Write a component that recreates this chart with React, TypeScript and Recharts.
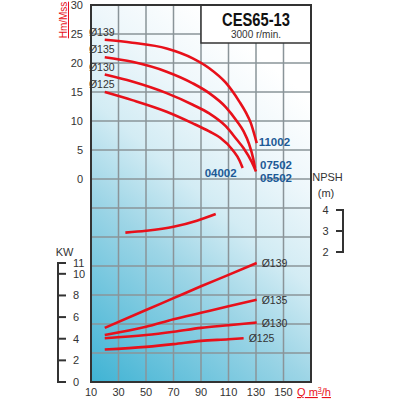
import { LineChart, Line, XAxis, YAxis, CartesianGrid, ReferenceArea, LabelList } from "recharts";

const FONT = '"Liberation Sans Narrow", "Arial Narrow", "Liberation Sans", Arial, sans-serif';
const RED = "#e8101a";
const BLUE = "#1d5a96";
const INK = "#333";

// axes
const Q_TICKS = [10, 30, 50, 70, 90, 110, 130, 150, 170];
const H_TICKS = [-35, -30, -25, -20, -15, -10, -5, 0, 5, 10, 15, 20, 25, 30];
const KW_TICKS = [0, 2, 4, 6, 8, 10, 11];
const NPSH_TICKS = [2, 3, 4];
const H_DOMAIN = [-35, 30];
const KW_DOMAIN = [0, 34.85];
const NPSH_DOMAIN = [-4.19, 13.76];

const IMPELLERS = ["Ø139", "Ø135", "Ø130", "Ø125"];
const MODELS = ["11002", "07502", "05502", "04002"];

// head curves (Q m3/h -> H m)
const HEAD_Q_139 = [20, 40, 65, 84, 96, 108, 118, 123, 126, 129, 130.5];
const HEAD_H_139 = [24.0, 23.5, 22.5, 20.8, 19.1, 16.6, 13.3, 11.3, 9.8, 7.5, 6.2];
const HEAD_Q_135 = [20, 40, 65, 84, 96, 108, 116, 121, 125, 128, 129.3];
const HEAD_H_135 = [21.0, 20.2, 18.5, 16.5, 14.8, 12.4, 10.0, 8.2, 6.0, 3.5, 1.9];
const HEAD_Q_130 = [20, 40, 65, 84, 96, 108, 116, 121, 127, 130];
const HEAD_H_130 = [18.0, 16.8, 14.8, 12.8, 11.3, 9.1, 6.8, 5.3, 2.9, 1.3];
const HEAD_Q_125 = [20, 40, 65, 84, 96, 104, 113, 118, 120.3];
const HEAD_H_125 = [15.0, 13.6, 11.6, 9.6, 8.2, 7.1, 5.0, 3.2, 1.9];

// power curves (Q -> kW)
const KW_Q = [20, 50, 70, 90, 110, 130.5];
const KW_139 = [5.0, 6.65, 7.75, 8.85, 9.9, 11.0];
const KW_135 = [4.35, 5.1, 5.8, 6.4, 7.0, 7.6];
const KW_130 = [4.05, 4.35, 4.65, 5.0, 5.25, 5.5];
const KW_Q_125 = [20, 50, 70, 90, 110, 121];
const KW_125 = [3.0, 3.25, 3.5, 3.8, 3.95, 4.05];

// NPSH curve
const NPSH_Q = [35, 50, 70, 87, 100.7];
const NPSH_M = [2.92, 3.01, 3.2, 3.49, 3.81];

const zip = (q: number[], v: number[]) => q.map((x, i) => ({ q: x, v: v[i] }));

const headSeries = [
  zip(HEAD_Q_139, HEAD_H_139),
  zip(HEAD_Q_135, HEAD_H_135),
  zip(HEAD_Q_130, HEAD_H_130),
  zip(HEAD_Q_125, HEAD_H_125),
];
const kwSeries = [
  zip(KW_Q, KW_139),
  zip(KW_Q, KW_135),
  zip(KW_Q, KW_130),
  zip(KW_Q_125, KW_125),
];
const npshData = zip(NPSH_Q, NPSH_M);

// label offsets for the model codes at the end of each head curve
const MODEL_OFFSETS = [
  { dx: 2, dy: 3, anchor: "start" },
  { dx: 5, dy: 1, anchor: "start" },
  { dx: 4, dy: 11, anchor: "start" },
  { dx: -6, dy: 9, anchor: "end" },
];

const pos = (p: any) => ({
  x: p.viewBox?.x ?? p.x,
  y: p.viewBox?.y ?? p.y,
});

const startLabel = (text: string) => (p: any) => {
  if (p.index !== 0) return null;
  const { x, y } = pos(p);
  return (
    <text x={x - 3} y={y - 4} textAnchor="middle" fontSize={10.5} fill={INK} fontFamily={FONT}>
      {text}
    </text>
  );
};

const endLabel = (text: string, last: number, o: any, color: string, bold: boolean, size: number) => (p: any) => {
  if (p.index !== last) return null;
  const { x, y } = pos(p);
  return (
    <text x={x + o.dx} y={y + o.dy} textAnchor={o.anchor} fontSize={size} fontWeight={bold ? 700 : 400} fill={color} fontFamily={FONT}>
      {text}
    </text>
  );
};

function HeadTick({ x, y, payload }: any) {
  if (payload.value < 0) return null;
  return (
    <text x={x} y={y} dy={4} textAnchor="end" fontSize={11} fill={INK} fontFamily={FONT}>
      {payload.value}
    </text>
  );
}

function KwTick({ x, y, payload, height }: any) {
  const v = payload.value;
  const i = KW_TICKS.indexOf(v);
  const ppu = (height || 377) / (KW_DOMAIN[1] - KW_DOMAIN[0]);
  const down = i > 0 ? (v - KW_TICKS[i - 1]) * ppu : 0;
  return (
    <g>
      <line x1={x - 3} x2={x + 5} y1={y} y2={y} stroke={INK} strokeWidth={2} />
      {down > 0 && <line x1={x - 3} x2={x - 3} y1={y - 1} y2={y + down + 1} stroke={INK} strokeWidth={2} />}
      <text x={x + 12} y={y} dy={4} fontSize={11} fill={INK} fontFamily={FONT}>{v}</text>
      {v === 11 && (
        <text x={x + 3.5} y={y - 7.5} textAnchor="middle" fontSize={11} fill={INK} fontFamily={FONT}>KW</text>
      )}
    </g>
  );
}

function NpshTick({ x, y, payload, height }: any) {
  const v = payload.value;
  const i = NPSH_TICKS.indexOf(v);
  const ppu = (height || 377) / (NPSH_DOMAIN[1] - NPSH_DOMAIN[0]);
  const down = i > 0 ? (v - NPSH_TICKS[i - 1]) * ppu : 0;
  return (
    <g>
      <line x1={x + 25} x2={x + 33} y1={y} y2={y} stroke={INK} strokeWidth={2} />
      {down > 0 && <line x1={x + 32} x2={x + 32} y1={y - 1} y2={y + down + 1} stroke={INK} strokeWidth={2} />}
      <text x={x + 14.5} y={y} dy={4} textAnchor="middle" fontSize={11} fill={INK} fontFamily={FONT}>{v}</text>
      {v === 4 && (
        <g>
          <text x={x + 16.5} y={y - 29} textAnchor="middle" fontSize={11} fill={INK} fontFamily={FONT}>NPSH</text>
          <text x={x + 15} y={y - 13} textAnchor="middle" fontSize={11} fill={INK} fontFamily={FONT}>(m)</text>
        </g>
      )}
    </g>
  );
}

function QTick({ x, y, payload }: any) {
  const v = payload.value;
  if (v === 170) {
    return (
      <text x={x + 3} y={y + 14} textAnchor="middle" fontSize={11} fill={RED} fontFamily={FONT} textDecoration="underline">
        Q m<tspan dy={-4} fontSize={7}>3</tspan><tspan dy={4}>/h</tspan>
      </text>
    );
  }
  return (
    <text x={x} y={y + 14} textAnchor="middle" fontSize={11} fill={INK} fontFamily={FONT}>{v}</text>
  );
}

const headAxisLabel = (p: any) => {
  const vb = p.viewBox;
  const x = vb.x + 6;
  const y = vb.y + 15;
  return (
    <text x={x} y={y} transform={`rotate(-90 ${x} ${y})`} textAnchor="middle" fontSize={10} fill={RED} fontFamily={FONT} textDecoration="underline">
      Hm/Mss
    </text>
  );
};

const titleLabel = (p: any) => {
  const vb = p.viewBox;
  const cx = vb.x + vb.width / 2;
  return (
    <g>
      <text x={cx} y={vb.y + 21} textAnchor="middle" fontSize={19} fontWeight={700} fill="#111" fontFamily={FONT} textLength={68} lengthAdjust="spacingAndGlyphs">CES65-13</text>
      <text x={cx} y={vb.y + 33} textAnchor="middle" fontSize={10} fill={INK} fontFamily={FONT}>3000 r/min.</text>
    </g>
  );
};

export default function App() {
  return (
    <div style={{ position: "absolute", left: 0, top: 0, width: 400, height: 400, background: "#fff" }}>
      <LineChart width={400} height={400} margin={{ top: 5, right: 29, bottom: 0, left: 31 }}>
        <defs>
          <linearGradient id="bg" x1="0" y1="1" x2="0.5" y2="0">
            <stop offset="0" stopColor="#3fb3d4" />
            <stop offset="0.4" stopColor="#9dd5e6" />
            <stop offset="0.6" stopColor="#d3ecf4" />
            <stop offset="0.8" stopColor="#eef7fb" />
            <stop offset="1" stopColor="#ffffff" />
          </linearGradient>
        </defs>
        <CartesianGrid yAxisId="h" fill="url(#bg)" fillOpacity={1} stroke="#8a9499" strokeWidth={1.5} />
        <XAxis
          dataKey="q"
          type="number"
          domain={[10, 170]}
          ticks={Q_TICKS}
          interval={0}
          allowDataOverflow
          height={18}
          axisLine={false}
          tickLine={false}
          tickSize={0}
          tickMargin={0}
          tick={<QTick />}
        />
        <YAxis
          yAxisId="h"
          type="number"
          domain={H_DOMAIN}
          ticks={H_TICKS}
          interval={0}
          allowDataOverflow
          width={30}
          axisLine={false}
          tickLine={false}
          tickSize={0}
          tickMargin={8}
          tick={<HeadTick />}
          label={headAxisLabel}
        />
        <YAxis
          yAxisId="kw"
          type="number"
          domain={KW_DOMAIN}
          ticks={KW_TICKS}
          interval={0}
          allowDataOverflow
          width={30}
          axisLine={false}
          tickLine={false}
          tickSize={0}
          tickMargin={0}
          tick={<KwTick />}
        />
        <YAxis
          yAxisId="npsh"
          orientation="right"
          type="number"
          domain={NPSH_DOMAIN}
          ticks={NPSH_TICKS}
          interval={0}
          allowDataOverflow
          width={60}
          axisLine={false}
          tickLine={false}
          tickSize={0}
          tickMargin={0}
          tick={<NpshTick />}
        />
        <ReferenceArea yAxisId="h" x1={90} x2={170} y1={23.45} y2={30} fill="#fff" fillOpacity={1} stroke={INK} strokeWidth={1.5} label={titleLabel} />
        <ReferenceArea yAxisId="h" x1={10} x2={170} y1={-35} y2={30} fill="none" stroke={INK} strokeWidth={2} />
        {headSeries.map((d, i) => (
          <Line
            key={"h" + i}
            yAxisId="h"
            data={d}
            dataKey="v"
            type="monotone"
            stroke={RED}
            strokeWidth={2.6}
            dot={false}
            isAnimationActive={false}
          >
            <LabelList dataKey="v" content={startLabel(IMPELLERS[i])} />
            <LabelList dataKey="v" content={endLabel(MODELS[i], d.length - 1, MODEL_OFFSETS[i], BLUE, true, 11.5)} />
          </Line>
        ))}
        {kwSeries.map((d, i) => (
          <Line
            key={"k" + i}
            yAxisId="kw"
            data={d}
            dataKey="v"
            type="monotone"
            stroke={RED}
            strokeWidth={2.6}
            dot={false}
            isAnimationActive={false}
          >
            <LabelList dataKey="v" content={endLabel(IMPELLERS[i], d.length - 1, { dx: 5, dy: 4, anchor: "start" }, INK, false, 10.5)} />
          </Line>
        ))}
        <Line
          yAxisId="npsh"
          data={npshData}
          dataKey="v"
          type="monotone"
          stroke={RED}
          strokeWidth={2.6}
          dot={false}
          isAnimationActive={false}
        />
      </LineChart>
    </div>
  );
}
